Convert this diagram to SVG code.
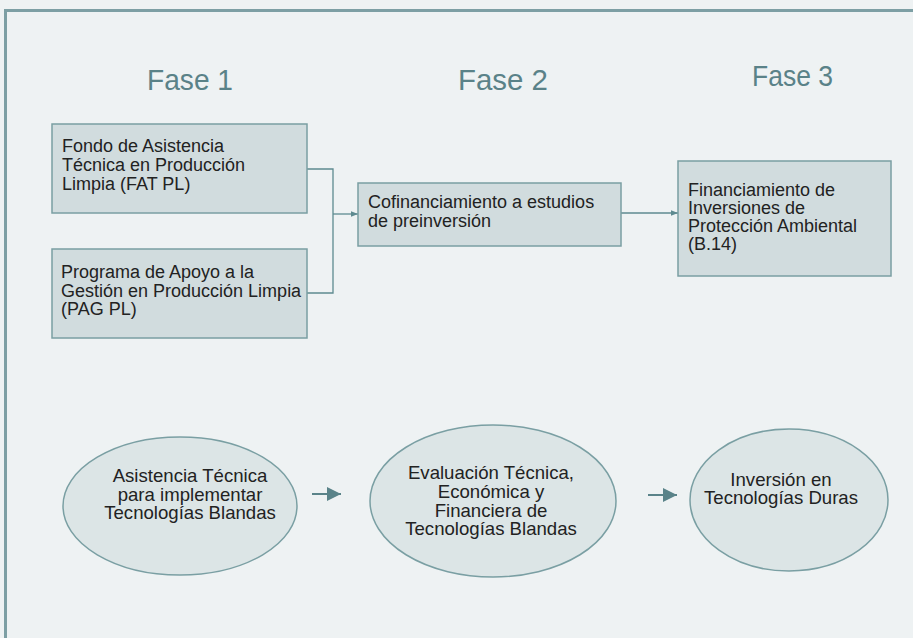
<svg xmlns="http://www.w3.org/2000/svg" width="913" height="638" viewBox="0 0 913 638">
<style>
.bg{fill:#eef2f3}
.frame{fill:#eef2f3;stroke:#7d9fa4;stroke-width:3}
.box{fill:#d1dcde;stroke:#7a9fa3;stroke-width:1.5}
.ell{fill:#dce5e6;stroke:#7a9fa3;stroke-width:1.5}
.phase{font-family:"Liberation Sans",Arial,sans-serif;font-size:29px;fill:#5a8288}
.t{font-family:"Liberation Sans",Arial,sans-serif;font-size:18px;fill:#222}
.tc{font-family:"Liberation Sans",Arial,sans-serif;font-size:18.6px;fill:#222;text-anchor:middle}
.conn{fill:none;stroke:#5e8a90;stroke-width:1.3}
.big{fill:none;stroke:#5a8389;stroke-width:2}
</style>
<defs>
<marker id="sm" viewBox="0 0 10 10" refX="10" refY="5" markerWidth="7" markerHeight="7" markerUnits="userSpaceOnUse" orient="auto"><path d="M0,1 L10,5 L0,9 Z" fill="#5e8a90"/></marker>
<marker id="lg" viewBox="0 0 10 10" refX="10" refY="5" markerWidth="14" markerHeight="14" markerUnits="userSpaceOnUse" orient="auto"><path d="M0,0 L10,5 L0,10 Z" fill="#5a8389"/></marker>
</defs>
<rect class="bg" x="0" y="0" width="913" height="638"/>
<rect class="frame" x="5.5" y="10.5" width="1000" height="1000"/>
<g id="phases">
<text class="phase" x="147" y="90" textLength="86" lengthAdjust="spacingAndGlyphs">Fase 1</text>
<text class="phase" x="458" y="90" textLength="90" lengthAdjust="spacingAndGlyphs">Fase 2</text>
<text class="phase" x="752" y="86" font-size="27" textLength="81" lengthAdjust="spacingAndGlyphs">Fase 3</text>
</g>
<g id="connectors">
<polyline class="conn" points="307,169 333,169 333,293 307,293"/>
<line class="conn" x1="333" y1="214" x2="358" y2="214" marker-end="url(#sm)"/>
<line class="conn" x1="621" y1="213" x2="678" y2="213" marker-end="url(#sm)"/>
<line class="big" x1="312" y1="494" x2="341" y2="494" marker-end="url(#lg)"/>
<line class="big" x1="648" y1="495" x2="677" y2="495" marker-end="url(#lg)"/>
</g>
<g id="fatpl">
<rect class="box" x="52" y="124" width="255" height="89"/>
<text class="t" x="62" y="152">Fondo de Asistencia</text>
<text class="t" x="62" y="171">Técnica en Producción</text>
<text class="t" x="62" y="190">Limpia (FAT PL)</text>
</g>
<g id="pagpl">
<rect class="box" x="52" y="249" width="255" height="89"/>
<text class="t" x="61" y="278">Programa de Apoyo a la</text>
<text class="t" x="61" y="297">Gestión en Producción Limpia</text>
<text class="t" x="61" y="315">(PAG PL)</text>
</g>
<g id="cofin">
<rect class="box" x="358" y="183" width="263" height="63"/>
<text class="t" x="368" y="208">Cofinanciamiento a estudios</text>
<text class="t" x="368" y="227">de preinversión</text>
</g>
<g id="financ">
<rect class="box" x="678" y="161" width="213" height="115"/>
<text class="t" x="688" y="196">Financiamiento de</text>
<text class="t" x="688" y="214">Inversiones de</text>
<text class="t" x="688" y="232">Protección Ambiental</text>
<text class="t" x="688" y="250">(B.14)</text>
</g>
<g id="asistencia">
<ellipse class="ell" cx="180" cy="506" rx="117" ry="69"/>
<text class="tc" x="190" y="482">Asistencia Técnica</text>
<text class="tc" x="190" y="501">para implementar</text>
<text class="tc" x="190" y="519">Tecnologías Blandas</text>
</g>
<g id="evaluacion">
<ellipse class="ell" cx="493" cy="501" rx="123" ry="76"/>
<text class="tc" x="491" y="479">Evaluación Técnica,</text>
<text class="tc" x="491" y="498">Económica y</text>
<text class="tc" x="491" y="517">Financiera de</text>
<text class="tc" x="491" y="535">Tecnologías Blandas</text>
</g>
<g id="inversion">
<ellipse class="ell" cx="789" cy="500" rx="99" ry="71"/>
<text class="tc" x="781" y="486">Inversión en</text>
<text class="tc" x="781" y="504">Tecnologías Duras</text>
</g>
</svg>
